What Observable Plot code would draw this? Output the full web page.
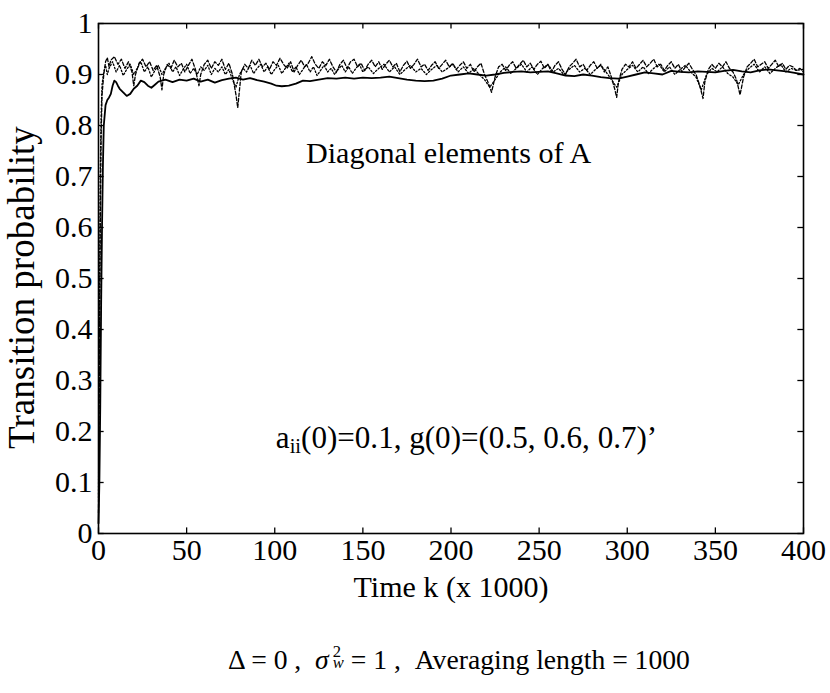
<!DOCTYPE html>
<html>
<head>
<meta charset="utf-8">
<script src="https://cdn.jsdelivr.net/npm/d3@7"></script>
<script src="https://cdn.jsdelivr.net/npm/@observablehq/plot@0.6"></script>
<style>
  body { margin: 0; background: #fff; }
  #wrap { position: relative; width: 830px; height: 693px; overflow: hidden; }
  #cap { position: absolute; left: 228px; top: 640px; white-space: nowrap; line-height: 1; color: #000; }
</style>
</head>
<body>
<div id="wrap"><div id="chart"></div><div id="cap"></div></div>
<script>
// ---- data ----
const xTicks = [0, 50, 100, 150, 200, 250, 300, 350, 400];
const yTicks = [0, 0.1, 0.2, 0.3, 0.4, 0.5, 0.6, 0.7, 0.8, 0.9, 1];
const xLabel = "Time k (x 1000)";
const yLabel = "Transition probability";
const notes = [
  {k: 198.6, p: 0.745, text: "Diagonal elements of A"},
  {k: 208.8, p: 0.188, text: "aii(0)=0.1, g(0)=(0.5, 0.6, 0.7)’"}
];

// solid series [k, value]
const solid = [[0,0.02],[0.5,0.1],[1,0.25],[1.5,0.45],[2,0.6],[2.5,0.72],[3,0.8],[4,0.84],[5,0.85],[6,0.855],[7,0.862],[8,0.878],[9,0.888],[10,0.885],[11,0.878],[12,0.872],[14,0.865],[16,0.858],[18,0.862],[20,0.872],[22,0.878],[24,0.888],[26,0.885],[28,0.878],[30,0.874],[32,0.88],[34,0.886],[38,0.89],[42,0.885],[46,0.89],[50,0.888],[54,0.892],[58,0.886],[62,0.89],[66,0.884],[70,0.889],[74,0.892],[78,0.894],[82,0.89],[86,0.893],[90,0.889],[94,0.886],[98,0.882],[101,0.878],[104,0.877],[108,0.878],[112,0.882],[116,0.888],[120,0.887],[125,0.89],[130,0.893],[135,0.892],[140,0.894],[145,0.892],[150,0.894],[155,0.893],[160,0.894],[165,0.896],[170,0.893],[175,0.89],[180,0.888],[185,0.887],[190,0.888],[195,0.892],[200,0.898],[205,0.9],[210,0.902],[215,0.9],[220,0.898],[225,0.9],[230,0.903],[235,0.905],[240,0.906],[245,0.904],[250,0.905],[255,0.906],[260,0.902],[265,0.898],[270,0.897],[275,0.9],[280,0.898],[285,0.895],[290,0.893],[295,0.892],[300,0.896],[305,0.9],[310,0.904],[315,0.902],[320,0.9],[325,0.907],[330,0.905],[335,0.904],[340,0.906],[345,0.905],[350,0.904],[355,0.907],[360,0.909],[365,0.906],[370,0.904],[375,0.908],[380,0.91],[385,0.908],[390,0.906],[395,0.903],[400,0.9]];

// dashed series [k, value]
const dashed = [[0,0.04],[0.5,0.3],[1,0.6],[1.5,0.78],[2,0.86],[3,0.9],[4,0.925],[5,0.933],[6,0.915],[7,0.928],[9,0.935],[11,0.92],[13,0.93],[15,0.912],[17,0.925],[19,0.905],[20,0.878],[21,0.9],[23,0.922],[25,0.93],[27,0.915],[29,0.925],[31,0.908],[33,0.918],[35,0.895],[36,0.87],[37,0.9],[39,0.92],[41,0.912],[43,0.928],[45,0.915],[47,0.922],[49,0.905],[51,0.918],[53,0.93],[55,0.91],[57,0.878],[58,0.9],[60,0.92],[62,0.928],[64,0.912],[66,0.925],[68,0.918],[70,0.93],[72,0.91],[74,0.922],[76,0.9],[78,0.86],[79,0.835],[80,0.87],[81,0.905],[83,0.92],[85,0.912],[87,0.928],[89,0.918],[91,0.93],[93,0.915],[95,0.922],[97,0.91],[99,0.925],[101,0.918],[103,0.932],[105,0.92],[107,0.912],[109,0.925],[111,0.905],[113,0.918],[115,0.928],[117,0.915],[119,0.922],[121,0.935],[123,0.92],[125,0.912],[127,0.925],[129,0.918],[131,0.93],[133,0.915],[135,0.905],[137,0.92],[139,0.928],[141,0.912],[143,0.925],[145,0.93],[147,0.915],[149,0.922],[151,0.908],[153,0.92],[155,0.928],[157,0.915],[159,0.925],[161,0.91],[163,0.92],[165,0.928],[167,0.915],[169,0.922],[171,0.905],[173,0.918],[175,0.926],[177,0.912],[179,0.92],[181,0.93],[183,0.915],[185,0.92],[187,0.908],[189,0.918],[191,0.925],[193,0.912],[195,0.92],[197,0.928],[199,0.915],[201,0.922],[203,0.91],[205,0.918],[207,0.925],[209,0.912],[211,0.92],[213,0.905],[215,0.915],[217,0.922],[219,0.9],[221,0.885],[223,0.865],[225,0.895],[227,0.915],[229,0.92],[231,0.908],[233,0.918],[235,0.925],[237,0.912],[239,0.92],[241,0.928],[243,0.915],[245,0.922],[247,0.91],[249,0.92],[251,0.926],[253,0.912],[255,0.92],[257,0.905],[259,0.918],[261,0.925],[263,0.91],[265,0.9],[267,0.915],[269,0.922],[271,0.93],[273,0.915],[275,0.92],[277,0.908],[279,0.918],[281,0.925],[283,0.912],[285,0.92],[287,0.905],[289,0.915],[291,0.895],[293,0.87],[294,0.855],[295,0.885],[297,0.91],[299,0.92],[301,0.915],[303,0.925],[305,0.912],[307,0.92],[309,0.928],[311,0.915],[313,0.922],[315,0.93],[317,0.915],[319,0.92],[321,0.908],[323,0.918],[325,0.925],[327,0.912],[329,0.92],[331,0.905],[333,0.915],[335,0.922],[337,0.91],[339,0.9],[341,0.88],[343,0.853],[344,0.885],[346,0.91],[348,0.92],[350,0.912],[352,0.922],[354,0.915],[356,0.925],[358,0.912],[360,0.905],[362,0.89],[364,0.86],[366,0.895],[368,0.915],[370,0.922],[372,0.93],[374,0.915],[376,0.92],[378,0.925],[380,0.912],[382,0.92],[384,0.928],[386,0.915],[388,0.922],[390,0.91],[392,0.918],[394,0.915],[396,0.908],[398,0.912],[400,0.905]];

// dotted series [k, value]
const dotted = [[0,0.07],[0.5,0.4],[1,0.7],[1.5,0.82],[2,0.88],[3,0.905],[4,0.918],[5,0.9],[6,0.912],[8,0.925],[10,0.905],[12,0.918],[14,0.898],[16,0.91],[18,0.92],[20,0.9],[22,0.912],[24,0.925],[26,0.905],[28,0.915],[30,0.895],[32,0.908],[34,0.918],[36,0.9],[38,0.912],[40,0.922],[42,0.905],[44,0.915],[46,0.898],[48,0.91],[50,0.92],[52,0.902],[54,0.912],[56,0.9],[58,0.915],[60,0.908],[62,0.918],[64,0.9],[66,0.912],[68,0.905],[70,0.915],[72,0.9],[74,0.91],[76,0.89],[78,0.875],[80,0.9],[82,0.912],[84,0.905],[86,0.918],[88,0.902],[90,0.912],[92,0.92],[94,0.905],[96,0.915],[98,0.9],[100,0.91],[102,0.918],[104,0.902],[106,0.912],[108,0.922],[110,0.905],[112,0.915],[114,0.9],[116,0.91],[118,0.92],[120,0.905],[122,0.915],[124,0.898],[126,0.908],[128,0.918],[130,0.905],[132,0.912],[134,0.9],[136,0.91],[138,0.918],[140,0.905],[142,0.915],[144,0.902],[146,0.912],[148,0.92],[150,0.905],[153,0.915],[156,0.902],[159,0.912],[162,0.92],[165,0.905],[168,0.915],[171,0.9],[174,0.91],[177,0.918],[180,0.905],[183,0.912],[186,0.9],[189,0.91],[192,0.918],[195,0.905],[198,0.912],[201,0.92],[204,0.905],[207,0.915],[210,0.902],[213,0.912],[216,0.9],[219,0.89],[222,0.875],[225,0.89],[228,0.905],[231,0.915],[234,0.902],[237,0.912],[240,0.92],[243,0.905],[246,0.915],[249,0.9],[252,0.912],[255,0.92],[258,0.905],[261,0.912],[264,0.9],[267,0.91],[270,0.918],[273,0.905],[276,0.912],[279,0.9],[282,0.91],[285,0.918],[288,0.905],[291,0.89],[294,0.875],[297,0.9],[300,0.91],[303,0.918],[306,0.905],[309,0.915],[312,0.902],[315,0.912],[318,0.92],[321,0.905],[324,0.915],[327,0.9],[330,0.91],[333,0.918],[336,0.905],[339,0.895],[342,0.87],[345,0.9],[348,0.912],[351,0.905],[354,0.915],[357,0.902],[360,0.895],[363,0.88],[366,0.9],[369,0.912],[372,0.92],[375,0.905],[378,0.915],[381,0.902],[384,0.912],[387,0.92],[390,0.905],[393,0.912],[396,0.908],[400,0.91]];

// ---- font selection & fitting ----
const ctx = document.createElement("canvas").getContext("2d");
function hasFont(name) {
  const s = "mmmmmmmmmmlliWW0123456789abcxyz";
  for (const fb of ["monospace", "sans-serif", "serif"]) {
    ctx.font = `72px ${fb}`; const w0 = ctx.measureText(s).width;
    ctx.font = `72px "${name}", ${fb}`; const w1 = ctx.measureText(s).width;
    if (Math.abs(w0 - w1) > 0.5) return true;
  }
  return false;
}
const candidates = ["Liberation Serif", "Tinos", "Times New Roman", "Nimbus Roman", "DejaVu Serif", "Noto Serif"];
const serifName = candidates.find(hasFont);
const FF = serifName ? `"${serifName}", serif` : "serif";
function fit(str, target) {
  ctx.font = `100px ${FF}`;
  return 100 * target / ctx.measureText(str).width;
}
const tickFS = fit("400", 45);
const xLabFS = fit(xLabel, 195);
const yLabFS = fit(yLabel, 323);
const note1FS = fit(notes[0].text, 287);
const note2FS = fit("a(0)=0.1, g(0)=(0.5, 0.6, 0.7)’", 370);

// ---- chart ----
const K = d => d[0], V = d => d[1];
const chart = Plot.plot({
  width: 830,
  height: 620,
  marginLeft: 98,
  marginRight: 27,
  marginTop: 23,
  marginBottom: 87,
  style: {fontFamily: FF, fontSize: tickFS + "px", color: "#000", background: "#fff"},
  x: {domain: [0, 400], ticks: xTicks, tickSize: 0, tickPadding: 5, tickFormat: d => String(d), label: null},
  y: {domain: [0, 1], ticks: yTicks, tickSize: 0, tickPadding: 6, tickFormat: d => String(d), label: null},
  marks: [
    Plot.line(dotted, {x: K, y: V, stroke: "#000", strokeWidth: 1.3, strokeDasharray: "1.5,2"}),
    Plot.line(dashed, {x: K, y: V, stroke: "#000", strokeWidth: 1.3, strokeDasharray: "3.5,2"}),
    Plot.line(solid, {x: K, y: V, stroke: "#000", strokeWidth: 1.8}),
    Plot.frame({stroke: "#000", strokeWidth: 1.6}),
    Plot.ruleX(xTicks, {x: d => d, y1: 0, y2: 0.011, stroke: "#000", strokeWidth: 1.3}),
    Plot.ruleX(xTicks, {x: d => d, y1: 0.989, y2: 1, stroke: "#000", strokeWidth: 1.3}),
    Plot.ruleY(yTicks, {y: d => d, x1: 0, x2: 3.2, stroke: "#000", strokeWidth: 1.3}),
    Plot.ruleY(yTicks, {y: d => d, x1: 396.8, x2: 400, stroke: "#000", strokeWidth: 1.3}),
    Plot.text([notes[0]], {x: "k", y: "p", text: "text", fontSize: note1FS, fill: "#000", textAnchor: "middle"}),
    Plot.text([notes[1]], {x: "k", y: "p", text: "text", fontSize: note2FS, fill: "#000", textAnchor: "middle"}),
    Plot.text([xLabel], {text: d => d, frameAnchor: "bottom", textAnchor: "middle", lineAnchor: "middle", dy: 54, fontSize: xLabFS, fill: "#000"}),
    Plot.text([yLabel], {text: d => d, frameAnchor: "left", textAnchor: "middle", lineAnchor: "middle", rotate: -90, dx: -76, dy: 9, fontSize: yLabFS, fill: "#000"})
  ]
});
document.getElementById("chart").appendChild(chart);

// force the serif family on every text element
chart.setAttribute("font-family", FF.replace(/"/g, "'"));
chart.style.fontFamily = FF;
chart.querySelectorAll("g, text, tspan").forEach(el => {
  el.style.fontFamily = FF;
  if (el.hasAttribute("font-family")) el.setAttribute("font-family", FF.replace(/"/g, "'"));
});

// subscript "ii" in the second note
chart.querySelectorAll("text").forEach(t => {
  if (t.textContent.startsWith("aii(0)")) {
    const rest = t.textContent.slice(3);
    t.textContent = "";
    const NS = "http://www.w3.org/2000/svg";
    const a = document.createElementNS(NS, "tspan"); a.textContent = "a";
    const s = document.createElementNS(NS, "tspan"); s.textContent = "ii";
    s.setAttribute("font-size", (note2FS * 0.66).toFixed(1)); s.setAttribute("dy", "5");
    const r = document.createElementNS(NS, "tspan"); r.textContent = rest; r.setAttribute("dy", "-5");
    t.append(a, s, r);
  }
});

// caption
const cap = document.getElementById("cap");
cap.style.fontFamily = FF;
cap.style.fontSize = "29px";
cap.innerHTML = 'Δ = 0 ,&nbsp; <i>σ</i><span style="display:inline-block;position:relative;width:0.55em;height:1em;vertical-align:top"><span style="position:absolute;left:4px;top:-0.14em;font-size:0.6em;line-height:1">2</span><i style="position:absolute;left:4px;top:0.56em;font-size:0.6em;line-height:1">w</i></span> = 1 ,&nbsp; Averaging length = 1000';
const w = cap.getBoundingClientRect().width;
const capFS = 29 * 462 / w;
cap.style.fontSize = capFS.toFixed(2) + "px";
cap.style.left = (459 - 231) + "px";
cap.style.top = (670 - 0.86 * capFS).toFixed(1) + "px";
</script>
</body>
</html>
